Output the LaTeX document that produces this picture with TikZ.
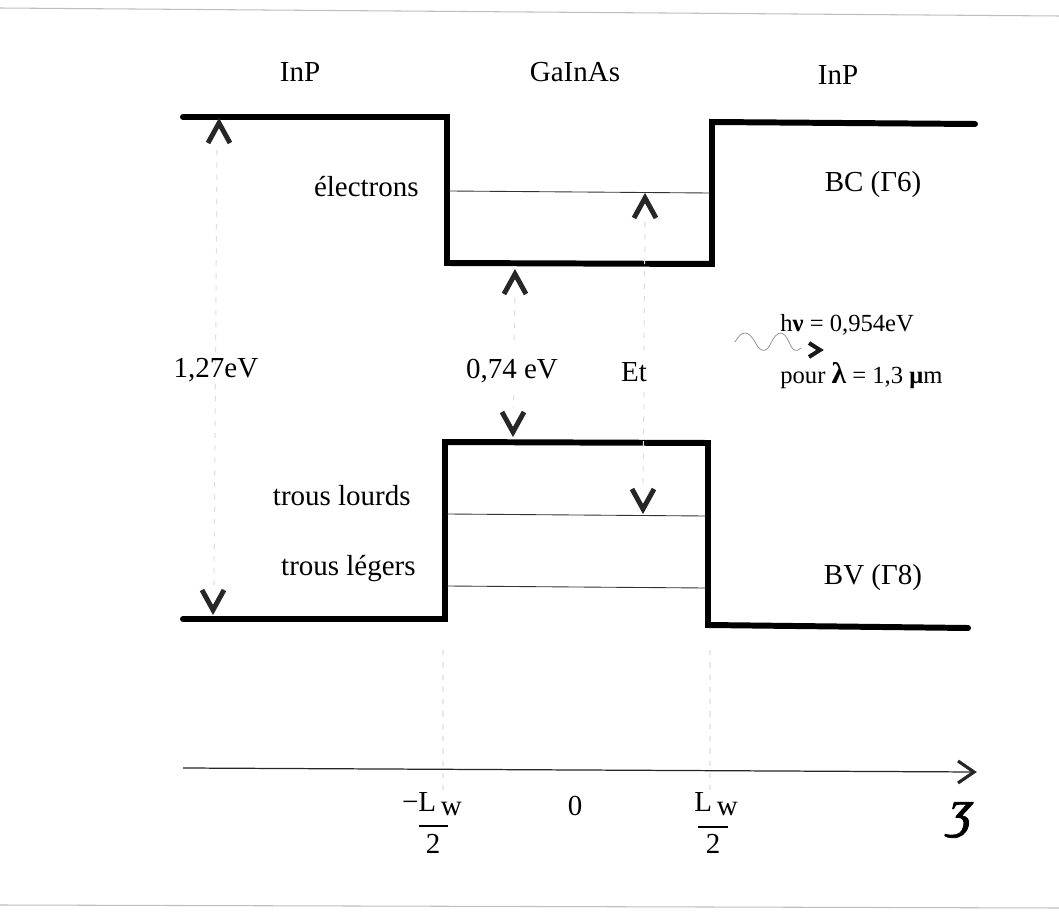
\documentclass[tikz,border=0pt]{standalone}
\usepackage{fontspec}
\setmainfont{Liberation Serif}
\newfontfamily\zfont[FakeSlant=0.25,FakeBold=1.5]{Liberation Serif}
\newcommand\myChevU[1]{\draw[chevline] ($(#1)+(-11,24)$) -- ($(#1)+(0,4)$) -- ($(#1)+(11,24)$);}
\newcommand\myChevD[1]{\draw[chevline] ($(#1)+(-11,-24)$) -- ($(#1)+(0,-4)$) -- ($(#1)+(11,-24)$);}
\usetikzlibrary{arrows.meta,calc}
\begin{document}
\begin{tikzpicture}[x=0.02cm,y=-0.02cm,
  band/.style={line width=3.4pt, line join=miter, line cap=round},
  level/.style={line width=0.5pt, black!80},
  guide/.style={line width=0.6pt, black!13, dash pattern=on 3pt off 4pt},
  chevline/.style={line width=2.8pt, black!85, line join=miter, miter limit=10},
  lab/.style={inner sep=0pt, font=\fontsize{16.5}{18}\selectfont},
  small/.style={inner sep=0pt, font=\fontsize{14}{16}\selectfont},
  rule/.style={line width=0.6pt, black!25}]
\useasboundingbox (0,0) rectangle (1059,912);
% scan rules
\coordinate (r1) at (0,8); \coordinate (r2) at (1059,16);
\coordinate (r3) at (0,905); \coordinate (r4) at (1059,908);
\draw[rule] (r1) -- (r2);
\draw[rule] (r3) -- (r4);
% conduction band
\coordinate (c1) at (183,117); \coordinate (c2) at (447,117);
\coordinate (c3) at (447,263); \coordinate (c4) at (712,264);
\coordinate (c5) at (712,122); \coordinate (c6) at (975,124);
\draw[band] (c1) -- (c2) -- (c3) -- (c4) -- (c5) -- (c6);
% valence band
\coordinate (v1) at (183,619); \coordinate (v2) at (445,619);
\coordinate (v3) at (445,442); \coordinate (v4) at (708,443);
\coordinate (v5) at (708,625); \coordinate (v6) at (968,628);
\draw[band] (v1) -- (v2) -- (v3) -- (v4) -- (v5) -- (v6);
% levels
\coordinate (e1) at (449,191); \coordinate (e2) at (710,193);
\coordinate (h1) at (447,514); \coordinate (h2) at (706,516);
\coordinate (l1) at (447,586); \coordinate (l2) at (706,588);
\draw[level] (e1) -- (e2);
\draw[level] (h1) -- (h2);
\draw[level] (l1) -- (l2);
% guides and arrows: 1,27 eV
\coordinate (g1t) at (219,119); \coordinate (g1b) at (213,614);
\draw[guide] (217,150) -- (214,585);
\myChevU{g1t}
\myChevD{g1b}
% 0,74 eV
\coordinate (g2t) at (515,270); \coordinate (g2b) at (513,436);
\draw[guide] (515,298) -- (514,340);
\draw[guide] (514,395) -- (513,408);
\myChevU{g2t}
\myChevD{g2b}
% Et
\coordinate (g3t) at (645,194); \coordinate (g3b) at (643,513);
\draw[guide] (645,222) -- (644,350);
\draw[guide] (644,392) -- (643,485);
\myChevU{g3t}
\myChevD{g3b}
% axis
\coordinate (a1) at (183,768); \coordinate (a2) at (976,772);
\draw[line width=0.7pt, black!85] (a1) -- (a2);
\draw[line width=1.8pt, black!85, line join=miter, miter limit=10] ($(a2)+(-18,-11)$) -- ($(a2)+(-2,0)$) -- ($(a2)+(-18,11)$);
\draw[guide, black!9] (443,650) -- (443,790);
\draw[guide, black!9] (710,650) -- (710,790);
% photon
\coordinate (w0) at (735,342);
\draw[line width=0.4pt, black!45] (w0) .. controls (742,330) and (748,330) .. (755,342)
  .. controls (760,352) and (766,354) .. (771,343)
  .. controls (777,330) and (784,330) .. (789,342)
  .. controls (793,352) and (797,352) .. (801,348);
\coordinate (w1) at (822,350);
\draw[line width=2.3pt, black!90, line join=miter, miter limit=10] ($(w1)+(-13,-7)$) -- ($(w1)+(-2,0)$) -- ($(w1)+(-13,7)$);
% labels
\node[lab] (inp1) at (300,72) {InP};
\node[lab] (gia) at (575,72) {GaInAs};
\node[lab] (inp2) at (838,75) {InP};
\node[lab, anchor=east] (el) at (419,187) {électrons};
\node[lab] (bc) at (873,185) {BC (Γ6)};
\node[lab] (bv) at (873,578) {BV (Γ8)};
\node[lab, anchor=east] (tl) at (411,496) {trous lourds};
\node[lab, anchor=east] (tg) at (416,569) {trous légers};
\node[lab] (e127) at (216,370) {1,27eV};
\node[lab] (e074) at (512,371) {0,74 eV};
\node[lab] (et) at (634,372) {Et};
\node[small, anchor=west] (hv) at (780,325) {h{\bfseries ν} = 0,954eV};
\node[small, anchor=west] (pl) at (780,376) {pour {\fontsize{17}{18}\selectfont\bfseries λ} = 1,3 {\bfseries μ}m};
% axis labels
\node[lab] (mlw) at (432,804) {−L\raisebox{-2.5pt}{\,w}};
\node[lab] (d1) at (433,844) {2};
\coordinate (f1a) at (419,826); \coordinate (f1b) at (448,826);
\draw[line width=0.6pt] (f1a) -- (f1b);
\node[lab] (zero) at (575,806) {0};
\node[lab] (plw) at (716,804) {L\raisebox{-2.5pt}{\,w}};
\node[lab] (d2) at (713,844) {2};
\coordinate (f2a) at (698,827); \coordinate (f2b) at (728,827);
\draw[line width=0.6pt] (f2a) -- (f2b);
\node[inner sep=0pt, font=\fontsize{30}{32}\selectfont\zfont] (z) at (958,820) {ʒ};
\end{tikzpicture}
\end{document}
